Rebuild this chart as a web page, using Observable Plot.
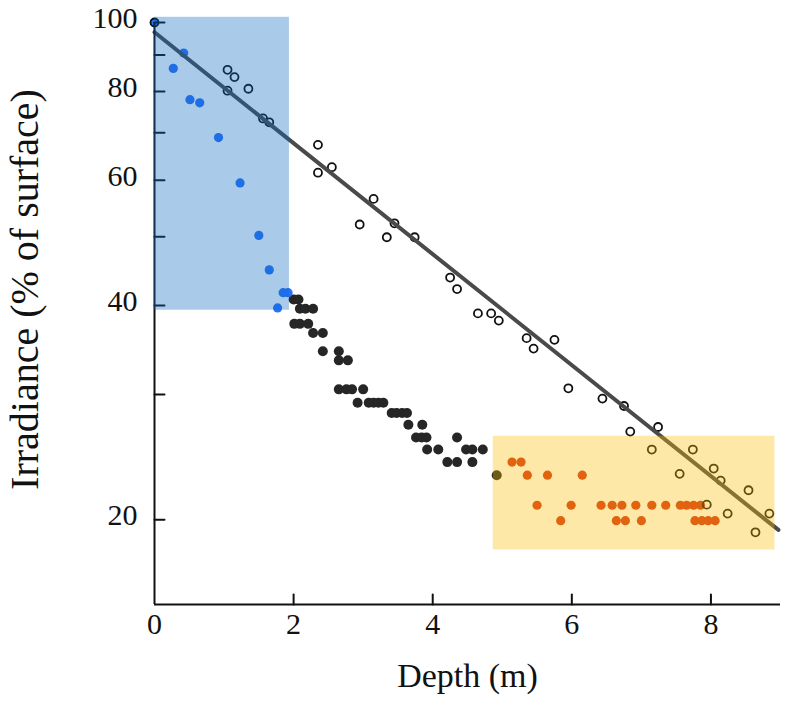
<!DOCTYPE html>
<html><head><meta charset="utf-8">
<script src="https://cdn.jsdelivr.net/npm/d3@7"></script>
<script src="https://cdn.jsdelivr.net/npm/@observablehq/plot@0.6"></script>
<style>html,body{margin:0;padding:0;background:#fff}</style>
</head><body><div id="chart"></div>
<script>
// Blue (shallow, filled) measurements
const blueDepth = [0, 0.27, 0.42, 0.51, 0.65, 0.92, 1.23, 1.50, 1.65, 1.85, 1.92, 1.77];
const blueIrr   = [100, 86.2, 90.6, 77.9, 77.1, 68.9, 59.5, 50.2, 44.9, 41.7, 41.7, 39.7];

// Open circles (clear water profile)
const openDepth = [0, 1.05, 1.15, 1.05, 1.35, 1.56, 1.65, 2.35, 2.35, 2.55, 3.15, 2.95, 3.45, 3.34, 3.74,
  4.25, 4.35, 4.65, 4.84, 4.95, 5.35, 5.45, 5.75, 5.95, 6.44, 6.75, 6.84, 7.24, 7.15, 7.74, 7.55,
  8.04, 8.14, 8.54, 7.94, 8.24, 8.84, 8.64];
const openIrr = [100, 85.8, 83.8, 80.2, 80.7, 73.3, 72.4, 67.3, 61.5, 62.6, 56.5, 52.0, 52.2, 49.9, 49.9,
  43.8, 42.2, 39.0, 39.0, 38.1, 36.0, 34.8, 35.8, 30.6, 29.6, 28.9, 26.6, 27.0, 25.1, 25.1, 23.2,
  23.6, 22.7, 22.0, 21.0, 20.4, 20.4, 19.2];

// Black filled dots (middle depths)
const blackDepth = [2.0, 2.07, 2.09, 2.17, 2.28, 2.01, 2.09, 2.21, 2.28, 2.42, 2.42, 2.65, 2.65, 2.78,
  2.65, 2.76, 2.84, 3.0, 2.92, 3.08, 3.15, 3.22, 3.29, 3.41, 3.48, 3.56, 3.63, 3.65, 3.85,
  3.76, 3.84, 3.91, 4.35, 3.92, 4.08, 4.48, 4.57, 4.72, 4.21, 4.35, 4.57, 4.92];
const blackIrr = [40.8, 40.8, 39.6, 39.6, 39.6, 37.7, 37.7, 37.7, 36.6, 36.6, 34.5, 34.5, 33.5, 33.5,
  30.5, 30.5, 30.5, 30.5, 29.2, 29.2, 29.2, 29.2, 29.2, 28.25, 28.25, 28.25, 28.25, 27.2, 27.2,
  26.1, 26.1, 26.1, 26.1, 25.1, 25.1, 25.1, 25.1, 25.1, 24.1, 24.1, 24.1, 23.1];

// Orange filled dots (deep)
const orangeDepth = [5.14, 5.27, 5.36, 5.65, 6.15, 5.50, 5.99, 6.42, 6.58, 6.72, 6.92, 7.15, 7.35,
  7.56, 7.65, 7.75, 7.85, 5.84, 6.64, 6.77, 7.0, 7.77, 7.87, 7.96, 8.06];
const orangeIrr = [24.1, 24.1, 23.1, 23.1, 23.1, 20.96, 20.96, 20.96, 20.96, 20.96, 20.96, 20.96, 20.96,
  20.96, 20.96, 20.96, 20.96, 19.94, 19.94, 19.94, 19.94, 19.94, 19.94, 19.94, 19.94];

// Exponential fit line (end points)
const fitDepth = [0, 8.97];
const fitIrr = [96.9, 19.35];

// Shaded regions
const shadeX1 = [0, 4.87];
const shadeX2 = [1.94, 8.92];
const shadeY1 = [39.4, 18.13];
const shadeY2 = [101.7, 26.2];
const shadeFill = ["rgb(9,106,192)", "rgb(249,189,7)"];

// Axes
const xDomain = [0, 9];
const yDomain = [15.2, 100];
const xTickLabels = [0, 2, 4, 6, 8];
const xTickMarks = [2, 4, 6, 8];
const yTickLabels = [20, 40, 60, 80, 100];
const yTickMarks = [20, 30, 40, 50, 60, 70, 80, 90, 100];

const pts = (xs, ys) => xs.map((x, i) => ({x, y: ys[i]}));
const shades = shadeX1.map((x1, i) => ({x1, x2: shadeX2[i], y1: shadeY1[i], y2: shadeY2[i], fill: shadeFill[i]}));
const tickShape = {draw(context, l) { context.moveTo(0, 0); context.lineTo(0, -l); }};
const font = "Liberation Serif, Times New Roman, serif";

const chart = Plot.plot({
  width: 785, height: 709,
  marginLeft: 154, marginRight: 5, marginTop: 22, marginBottom: 105,
  x: {domain: xDomain},
  y: {type: "log", domain: yDomain},
  style: {fontFamily: font, background: "white", color: "#111"},
  marks: [
    Plot.dot(pts(blackDepth, blackIrr), {x: "x", y: "y", r: 5, fill: "#262626"}),
    Plot.dot(pts(orangeDepth, orangeIrr), {x: "x", y: "y", r: 4.6, fill: "rgb(212,52,20)"}),
    Plot.dot(pts(blueDepth, blueIrr), {x: "x", y: "y", r: 4.6, fill: "rgb(42,112,251)"}),
    Plot.dot(pts(openDepth, openIrr), {x: "x", y: "y", r: 4, fill: "none", stroke: "#111", strokeWidth: 1.8}),
    Plot.line(pts(fitDepth, fitIrr), {x: "x", y: "y", stroke: "#4a4a4a", strokeWidth: 4}),
    Plot.ruleX([xDomain[0]], {stroke: "#111", strokeWidth: 2}),
    Plot.ruleY([yDomain[0]], {stroke: "#111", strokeWidth: 2}),
    Plot.vector(yTickMarks, {x: () => xDomain[0], y: d => d, length: 10, rotate: 90, anchor: "start", shape: tickShape, stroke: "#111", strokeWidth: 2}),
    Plot.vector(xTickMarks, {x: d => d, y: () => yDomain[0], length: 10, rotate: 0, anchor: "start", shape: tickShape, stroke: "#111", strokeWidth: 2}),
    Plot.rect(shades, {x1: "x1", x2: "x2", y1: "y1", y2: "y2", fill: "fill", fillOpacity: 0.35}),
    Plot.axisX({ticks: xTickLabels, tickSize: 0, tickPadding: 8, fontSize: 30, label: null, fontFamily: font}),
    Plot.axisY({ticks: yTickLabels, tickSize: 0, tickPadding: 17, dy: -4, fontSize: 30, label: null, fontFamily: font}),
    Plot.text(["Depth (m)"], {frameAnchor: "bottom", dy: 82, fontSize: 34, fontFamily: font, fill: "#111"}),
    Plot.text(["Irradiance (% of surface)"], {frameAnchor: "left", textAnchor: "middle", rotate: -90, dx: -129, dy: -24, fontSize: 40, fontFamily: font, fill: "#111"})
  ]
});
document.getElementById("chart").appendChild(chart);
</script></body></html>
